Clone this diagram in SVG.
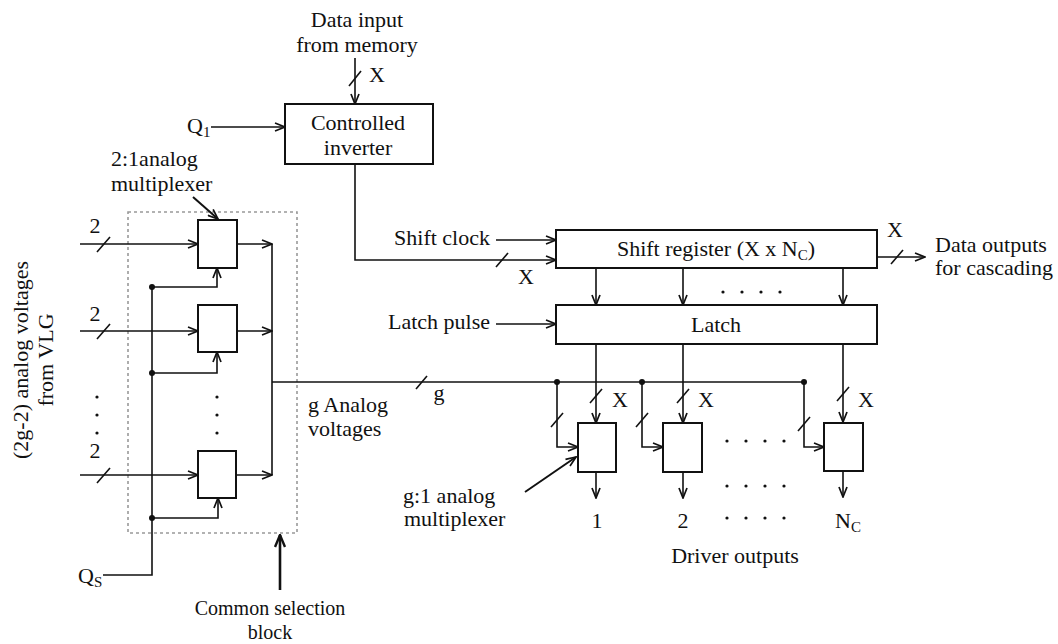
<svg xmlns="http://www.w3.org/2000/svg" width="1058" height="644" viewBox="0 0 1058 644">
  <style>
    text { font-family: "Liberation Serif", "Times New Roman", serif; font-size: 22px; fill: #111; }
    .mid { text-anchor: middle; }
    .end { text-anchor: end; }
    .small { font-size: 20px; }
    .box { fill: #fff; stroke: #111; stroke-width: 2; }
    .ln { fill: none; stroke: #111; stroke-width: 1.6; }
    .arr { fill: none; stroke: #111; stroke-width: 1.6; marker-end: url(#ah); }
    .bold { fill: none; stroke: #111; stroke-width: 2.6; marker-end: url(#ahb); }
    .tick { stroke: #111; stroke-width: 1.6; }
    .dot { fill: #111; }
    .dotted { fill: none; stroke: #999; stroke-width: 1.6; stroke-dasharray: 3 3; }
    .sub { font-size: 15px; }
  </style>
  <defs>
    <marker id="ah" viewBox="0 0 12 10" refX="11" refY="5" markerWidth="12" markerHeight="10" orient="auto" markerUnits="userSpaceOnUse">
      <path d="M1,1 L11,5 L1,9" fill="none" stroke="#111" stroke-width="1.7"/>
    </marker>
    <marker id="ahb" viewBox="0 0 14 12" refX="13" refY="6" markerWidth="14" markerHeight="12" orient="auto" markerUnits="userSpaceOnUse">
      <path d="M1,1 L13,6 L1,11" fill="none" stroke="#111" stroke-width="2.4"/>
    </marker>
  </defs>

  <!-- left side label, rotated -->
  <g id="vlg-label">
    <text class="mid" transform="translate(28,360) rotate(-90)">(2g-2) analog voltages</text>
    <text class="mid" transform="translate(53,360) rotate(-90)">from VLG</text>
  </g>

  <!-- common selection block (2:1 multiplexers) -->
  <g id="selection-block">
    <rect class="dotted" x="128" y="212" width="169" height="321"/>
  </g>
  <g id="mux21-1"><rect class="box" x="198" y="220" width="39" height="48"/></g>
  <g id="mux21-2"><rect class="box" x="198" y="305" width="39" height="47"/></g>
  <g id="mux21-3"><rect class="box" x="198" y="451" width="38" height="47"/></g>

  <!-- controlled inverter -->
  <g id="inverter">
    <rect class="box" x="285" y="104" width="148" height="60"/>
    <text class="mid" x="358" y="130">Controlled</text>
    <text class="mid" x="358" y="155">inverter</text>
  </g>

  <!-- shift register and latch -->
  <g id="shift-register">
    <rect class="box" x="556" y="230" width="321" height="38"/>
    <text class="mid" x="716" y="256">Shift register (X x N<tspan class="sub" dy="4">C</tspan><tspan dy="-4">)</tspan></text>
  </g>
  <g id="latch">
    <rect class="box" x="556" y="305" width="321" height="39"/>
    <text class="mid" x="716" y="332">Latch</text>
  </g>

  <!-- g:1 multiplexers -->
  <g id="muxg1-1"><rect class="box" x="578" y="423" width="38" height="49"/></g>
  <g id="muxg1-2"><rect class="box" x="663" y="423" width="39" height="49"/></g>
  <g id="muxg1-n"><rect class="box" x="824" y="423" width="39" height="48"/></g>

  <g id="connectors">
    <!-- data input to inverter -->
    <line class="arr" x1="355" y1="58" x2="355" y2="104"/>
    <line class="tick" x1="349" y1="86" x2="361" y2="71"/>
    <!-- Q1 -->
    <line class="arr" x1="211" y1="127" x2="285" y2="127"/>
    <!-- inverter to shift register -->
    <path class="arr" d="M355,164 V260 H556"/>
    <line class="tick" x1="496" y1="267" x2="508" y2="253"/>
    <line class="arr" x1="496" y1="240" x2="556" y2="240"/>
    <line class="arr" x1="496" y1="324" x2="556" y2="324"/>
    <!-- cascade output -->
    <line class="arr" x1="877" y1="257" x2="925" y2="257"/>
    <line class="tick" x1="891" y1="264" x2="903" y2="250"/>
    <!-- shift register to latch -->
    <line class="arr" x1="596" y1="268" x2="596" y2="305"/>
    <line class="arr" x1="683" y1="268" x2="683" y2="305"/>
    <line class="arr" x1="843" y1="268" x2="843" y2="305"/>
    <!-- latch to g:1 multiplexers -->
    <line class="arr" x1="596" y1="344" x2="596" y2="423"/>
    <line class="arr" x1="683" y1="344" x2="683" y2="423"/>
    <line class="arr" x1="843" y1="344" x2="843" y2="422"/>
    <line class="tick" x1="590" y1="403" x2="602" y2="389"/>
    <line class="tick" x1="677" y1="403" x2="689" y2="389"/>
    <line class="tick" x1="837" y1="401" x2="849" y2="387"/>
    <!-- 2:1 mux inputs -->
    <line class="arr" x1="80" y1="244" x2="198" y2="244"/>
    <line class="arr" x1="80" y1="331" x2="198" y2="331"/>
    <line class="arr" x1="80" y1="475" x2="198" y2="475"/>
    <line class="tick" x1="97" y1="252" x2="110" y2="237"/>
    <line class="tick" x1="97" y1="339" x2="110" y2="324"/>
    <line class="tick" x1="97" y1="483" x2="110" y2="468"/>
    <!-- 2:1 mux outputs onto the bus -->
    <line class="arr" x1="237" y1="244" x2="272" y2="244"/>
    <line class="arr" x1="237" y1="331" x2="272" y2="331"/>
    <line class="arr" x1="236" y1="475" x2="272" y2="475"/>
    <line class="ln" x1="272" y1="244" x2="272" y2="475"/>
    <!-- g analog voltage bus -->
    <line class="ln" x1="272" y1="382" x2="804" y2="382"/>
    <line class="tick" x1="416" y1="389" x2="427" y2="376"/>
    <circle class="dot" cx="557" cy="382" r="3"/>
    <circle class="dot" cx="642" cy="382" r="3"/>
    <circle class="dot" cx="804" cy="382" r="3"/>
    <path class="arr" d="M557,382 V447 H578"/>
    <path class="arr" d="M642,382 V447 H663"/>
    <path class="arr" d="M804,382 V447 H824"/>
    <line class="tick" x1="551" y1="427" x2="563" y2="413"/>
    <line class="tick" x1="636" y1="427" x2="648" y2="413"/>
    <line class="tick" x1="798" y1="431" x2="810" y2="417"/>
    <!-- driver outputs -->
    <line class="arr" x1="596" y1="472" x2="596" y2="498"/>
    <line class="arr" x1="683" y1="472" x2="683" y2="498"/>
    <line class="arr" x1="843" y1="471" x2="843" y2="497"/>
    <!-- selection lines Qs -->
    <path class="ln" d="M103,575 H152 V287"/>
    <path class="arr" d="M152,287 H217 V268"/>
    <path class="arr" d="M152,373 H217 V352"/>
    <path class="arr" d="M152,518 H218 V498"/>
    <circle class="dot" cx="152" cy="287" r="3"/>
    <circle class="dot" cx="152" cy="373" r="3"/>
    <circle class="dot" cx="152" cy="518" r="3"/>
    <!-- label pointers -->
    <line class="arr" x1="193" y1="197" x2="218" y2="219" style="stroke-width:2"/>
    <line class="arr" x1="525" y1="492" x2="576" y2="457" style="stroke-width:2"/>
    <line class="bold" x1="280" y1="590" x2="280" y2="535"/>
  </g>

  <!-- ellipsis dots -->
  <g id="ellipses">
    <circle class="dot" cx="97" cy="397" r="1.6"/>
    <circle class="dot" cx="97" cy="415" r="1.6"/>
    <circle class="dot" cx="97" cy="433" r="1.6"/>
    <circle class="dot" cx="217" cy="397" r="1.6"/>
    <circle class="dot" cx="217" cy="415" r="1.6"/>
    <circle class="dot" cx="217" cy="433" r="1.6"/>
    <circle class="dot" cx="723" cy="292" r="1.6"/>
    <circle class="dot" cx="742" cy="292" r="1.6"/>
    <circle class="dot" cx="761" cy="292" r="1.6"/>
    <circle class="dot" cx="780" cy="292" r="1.6"/>
    <circle class="dot" cx="727" cy="441" r="1.6"/>
    <circle class="dot" cx="746" cy="441" r="1.6"/>
    <circle class="dot" cx="765" cy="441" r="1.6"/>
    <circle class="dot" cx="784" cy="441" r="1.6"/>
    <circle class="dot" cx="727" cy="486" r="1.6"/>
    <circle class="dot" cx="746" cy="486" r="1.6"/>
    <circle class="dot" cx="765" cy="486" r="1.6"/>
    <circle class="dot" cx="784" cy="486" r="1.6"/>
    <circle class="dot" cx="727" cy="518" r="1.6"/>
    <circle class="dot" cx="746" cy="518" r="1.6"/>
    <circle class="dot" cx="765" cy="518" r="1.6"/>
    <circle class="dot" cx="784" cy="518" r="1.6"/>
  </g>

  <!-- labels -->
  <g id="labels">
    <text class="mid" x="357" y="27">Data input</text>
    <text class="mid" x="357" y="52">from memory</text>
    <text class="mid" x="377" y="82">X</text>
    <text x="187" y="133">Q<tspan class="sub" dy="4">1</tspan></text>
    <text x="111" y="166">2:1analog</text>
    <text x="111" y="191">multiplexer</text>
    <text class="mid" x="95" y="233">2</text>
    <text class="mid" x="95" y="321">2</text>
    <text class="mid" x="95" y="458">2</text>
    <text class="end" x="490" y="245">Shift clock</text>
    <text class="end" x="490" y="329">Latch pulse</text>
    <text class="mid" x="526" y="284">X</text>
    <text class="mid" x="895" y="237">X</text>
    <text x="935" y="252">Data outputs</text>
    <text x="935" y="275">for cascading</text>
    <text class="mid" x="439" y="400">g</text>
    <text x="308" y="412">g Analog</text>
    <text x="308" y="436">voltages</text>
    <text class="mid" x="620" y="407">X</text>
    <text class="mid" x="706" y="407">X</text>
    <text class="mid" x="866" y="407">X</text>
    <text x="403" y="503">g:1 analog</text>
    <text x="404" y="526">multiplexer</text>
    <text class="mid" x="597" y="528">1</text>
    <text class="mid" x="683" y="528">2</text>
    <text x="835" y="528">N<tspan class="sub" dy="4">C</tspan></text>
    <text class="mid" x="735" y="563">Driver outputs</text>
    <text x="78" y="583">Q<tspan class="sub" dy="4">S</tspan></text>
    <text class="mid small" x="270" y="615">Common selection</text>
    <text class="mid small" x="270" y="639">block</text>
  </g>
</svg>
